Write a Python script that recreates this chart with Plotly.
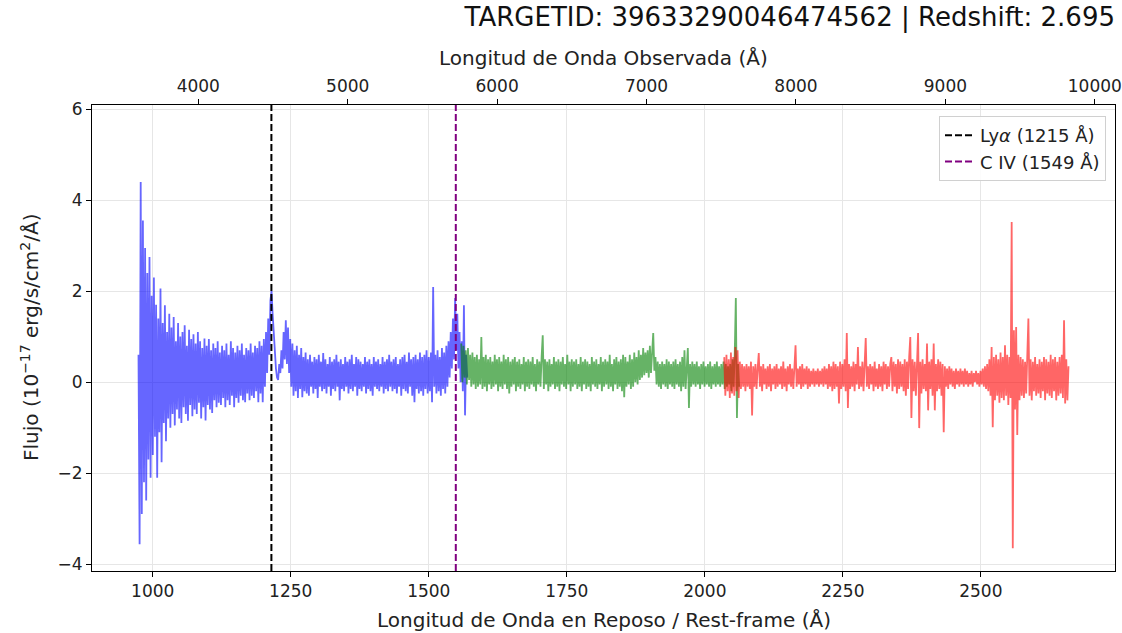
import numpy as np
import plotly.graph_objects as go

# ---------------- data ----------------
redshift = 2.695
target_id = "39633290046474562"

# observed wavelength coverage of each spectrograph arm (Å)
arm_b_range = [3600.0, 5800.0]
arm_r_range = [5760.0, 7620.0]
arm_z_range = [7520.0, 9824.0]

flux_b = [
    0.60, -3.56, 4.40, -2.90, 3.55, -2.20, 2.95, -2.60, 2.40, -1.70,
    2.75, -2.10, 1.90, -1.60, 2.30, -1.20, 1.70, -2.10, 1.40, -1.10,
    2.06, -1.76, 1.30, -0.90, 1.69, -1.30, 1.10, -0.80, 1.50, -1.00,
    1.20, -0.70, 1.43, -0.95, 0.90, -0.60, 1.30, -0.80, 1.00, -0.90,
    1.10, -0.55, 1.25, -0.70, 0.80, -0.85, 1.15, -0.50, 0.95, -0.75,
    1.05, -0.60, 0.85, -0.70, 1.10, -0.45, 0.90, -0.80, 0.75, -0.55,
    0.96, -0.84, 0.80, -0.50, 0.95, -0.60, 0.70, -0.68, 0.85, -0.40,
    0.75, -0.55, 0.90, -0.45, 0.65, -0.50, 0.80, -0.35, 0.70, -0.55,
    0.85, -0.40, 0.60, -0.50, 0.90, -0.30, 0.75, -0.55, 0.65, -0.35,
    0.80, -0.45, 0.70, -0.30, 0.85, -0.40, 0.60, -0.44, 0.75, -0.25,
    0.70, -0.40, 0.85, -0.30, 0.65, -0.35, 0.80, -0.20, 0.75, -0.44,
    0.90, -0.25, 0.80, -0.44, 0.95, -0.10, 1.10, 0.20, 1.40, 0.60,
    1.80, 2.00, 1.50, 1.10, 0.60, 0.30, 0.10, 0.05, 0.40, 0.20,
    0.70, 0.30, 1.10, 0.50, 1.36, 0.40, 1.20, 0.20, 0.95, -0.10,
    0.85, -0.30, 0.70, -0.20, 0.80, -0.35, 0.60, -0.15, 0.75, -0.33,
    0.55, -0.20, 0.65, -0.25, 0.50, -0.30, 0.60, -0.10, 0.45, -0.25,
    0.55, -0.15, 0.50, -0.35, 0.60, -0.10, 0.45, -0.20, 0.64, -0.15,
    0.50, -0.25, 0.40, -0.10, 0.55, -0.30, 0.45, -0.15, 0.50, -0.20,
    0.60, -0.10, 0.45, -0.40, 0.50, -0.15, 0.40, -0.20, 0.55, -0.10,
    0.45, -0.25, 0.50, -0.15, 0.60, -0.20, 0.40, -0.10, 0.55, -0.30,
    0.50, -0.15, 0.45, -0.20, 0.40, -0.10, 0.55, -0.25, 0.45, -0.15,
    0.50, -0.20, 0.40, -0.30, 0.55, -0.10, 0.45, -0.15, 0.50, -0.20,
    0.40, -0.10, 0.55, -0.25, 0.45, -0.15, 0.50, -0.20, 0.60, -0.10,
    0.45, -0.20, 0.50, -0.15, 0.55, -0.25, 0.40, -0.10, 0.50, -0.30,
    0.55, -0.15, 0.60, -0.20, 0.45, -0.25, 0.65, -0.10, 0.50, -0.30,
    0.55, -0.44, 0.60, -0.15, 0.50, -0.25, 0.65, -0.20, 0.55, -0.30,
    0.60, -0.15, 0.70, -0.25, 0.55, -0.20, 0.65, -0.44, 2.09, -0.10,
    0.60, -0.25, 0.70, -0.20, 0.55, -0.30, 0.75, -0.15, 0.65, -0.25,
    0.80, -0.10, 0.90, 0.10, 1.10, 0.30, 1.40, 0.50, 1.85, 0.70,
    1.50, 0.30, 1.10, 0.00, 0.90, -0.20, 1.69, -0.73, 0.60, 0.10,
]

flux_r = [
    0.85, 0.00, 0.80, 0.10, 0.70, -0.05, 0.75, 0.05, 0.60, -0.10,
    0.65, -0.05, 0.55, -0.15, 0.60, -0.10, 0.50, -0.05, 0.99, -0.15,
    0.55, -0.10, 0.60, -0.20, 0.50, -0.05, 0.55, -0.15, 0.45, -0.10,
    0.60, -0.05, 0.50, -0.20, 0.55, -0.10, 0.45, -0.15, 0.60, -0.05,
    0.50, -0.15, 0.55, -0.25, 0.45, -0.10, 0.50, -0.05, 0.55, -0.20,
    0.45, -0.10, 0.50, -0.15, 0.40, -0.05, 0.55, -0.20, 0.45, -0.10,
    0.50, -0.15, 0.45, -0.05, 0.55, -0.10, 0.40, -0.20, 0.50, -0.05,
    0.45, -0.10, 0.55, 1.03, -0.15, 0.50, -0.05, 0.45, -0.20, 0.50,
    -0.10, 0.40, -0.05, 0.55, -0.15, 0.45, -0.10, 0.50, -0.20, 0.45,
    -0.05, 0.55, -0.10, 0.40, -0.15, 0.60, -0.05, 0.45, -0.20, 0.50,
    -0.10, 0.45, -0.05, 0.50, -0.15, 0.40, -0.10, 0.55, -0.20, 0.45,
    -0.05, 0.50, -0.15, 0.45, -0.10, 0.40, -0.20, 0.55, -0.05, 0.45,
    -0.10, 0.50, -0.15, 0.40, -0.05, 0.55, -0.20, 0.45, -0.10, 0.50,
    -0.05, 0.45, -0.15, 0.60, -0.10, 0.40, -0.20, 0.50, -0.05, 0.55,
    -0.15, 0.45, -0.10, 0.50, -0.20, 0.60, -0.33, 0.55, -0.10, 0.45,
    -0.05, 0.60, -0.15, 0.50, -0.10, 0.65, 0.00, 0.55, -0.05, 0.70,
    0.05, 0.60, 0.10, 0.75, 0.15, 0.65, 0.20, 0.70, 0.10, 0.80,
    0.20, 0.70, 1.08, 0.25, 0.55, -0.05, 0.45, -0.10, 0.40, -0.15,
    0.45, -0.05, 0.40, -0.10, 0.50, -0.15, 0.45, -0.05, 0.40, -0.10,
    0.45, -0.15, 0.50, -0.05, 0.40, -0.10, 0.45, -0.20, 0.55, -0.10,
    0.70, -0.15, 0.45, 0.75, -0.57, 0.40, -0.10, 0.45, -0.05, 0.40,
    -0.10, 0.45, -0.05, 0.35, -0.15, 0.40, -0.05, 0.45, -0.10, 0.35,
    -0.05, 0.40, -0.10, 0.45, -0.15, 0.35, -0.05, 0.40, -0.10, 0.45,
    -0.05, 0.35, -0.10, 0.40, -0.05, 0.45, -0.15, 0.40, -0.10, 0.35,
    -0.05, 0.40, -0.20, 0.50, -0.10, 0.60, 1.85, -0.79, 0.40, -0.10,
]

flux_z = [
    0.55, -0.30, 0.60, -0.20, 0.50, -0.35, 0.65, -0.25, 0.55, -0.30,
    0.77, -0.20, 0.70, -0.35, 0.45, -0.15, 0.40, -0.10, 0.35, -0.20,
    0.40, -0.10, 0.35, -0.15, 0.45, -0.73, 0.35, -0.10, 0.40, -0.15,
    0.30, 0.64, -0.10, 0.35, -0.20, 0.40, -0.05, 0.30, -0.15, 0.35,
    -0.10, 0.40, -0.20, 0.30, -0.05, 0.35, -0.15, 0.40, -0.10, 0.30,
    -0.05, 0.35, -0.15, 0.45, -0.10, 0.30, -0.20, 0.35, -0.05, 0.40,
    -0.10, 0.30, -0.15, 0.35, 0.81, -0.10, 0.30, -0.05, 0.35, -0.15,
    0.40, -0.10, 0.30, -0.05, 0.35, -0.15, 0.30, -0.10, 0.25, -0.05,
    0.30, -0.10, 0.25, -0.05, 0.30, -0.10, 0.25, -0.05, 0.30, -0.10,
    0.35, -0.05, 0.30, -0.15, 0.40, -0.10, 0.35, -0.20, 0.45, -0.15,
    0.40, -0.10, 0.35, -0.47, 0.45, -0.15, 0.40, -0.10, 0.50, -0.20,
    1.08, -0.57, 0.40, -0.15, 0.35, -0.10, 0.45, -0.20, 0.40, -0.05,
    0.77, -0.15, 0.35, -0.10, 0.45, -0.20, 0.40, 0.97, -0.10, 0.35,
    -0.15, 0.40, -0.05, 0.35, -0.20, 0.45, -0.10, 0.30, -0.15, 0.40,
    -0.10, 0.35, -0.20, 0.45, -0.05, 0.40, -0.15, 0.35, -0.10, 0.40,
    0.55, -0.20, 0.45, -0.10, 0.40, -0.25, 0.50, -0.15, 0.45, -0.10,
    0.40, -0.20, 0.50, -0.30, 0.45, -0.15, 0.55, 0.99, -0.79, 0.50,
    -0.20, 0.45, -0.30, 0.55, 1.08, -1.01, 0.45, -0.25, 0.50, -0.15,
    0.40, -0.20, 0.85, -0.62, 0.45, -0.15, 0.50, -0.30, 0.85, -0.62,
    0.40, -0.20, 0.50, -0.15, 0.45, -0.30, 0.40, -1.10, 0.35, -0.10,
    0.30, -0.15, 0.35, -0.05, 0.30, -0.10, 0.25, -0.15, 0.30, -0.05,
    0.25, -0.10, 0.30, -0.05, 0.25, -0.10, 0.30, -0.05, 0.25, -0.10,
    0.20, -0.05, 0.25, -0.10, 0.20, 0.00, 0.25, -0.05, 0.20, -0.10,
    0.25, -0.05, 0.30, -0.10, 0.35, -0.15, 0.40, -0.20, 0.50, -0.30,
    0.77, -0.99, 0.55, -0.40, 0.60, -0.30, 0.50, -0.45, 0.65, -0.35,
    0.55, -0.40, 0.81, -0.30, 0.60, -0.50, 0.55, -0.35, 3.52, -3.65,
    1.14, -0.60, 1.21, -1.16, 0.60, -0.40, 0.55, -0.30, 0.50, -0.35,
    0.45, -0.25, 0.55, 1.40, -0.30, 0.50, -0.40, 0.45, -0.20, 0.55,
    -0.30, 0.40, -0.25, 0.50, -0.35, 0.45, -0.20, 0.55, -0.40, 0.50,
    -0.25, 0.45, -0.30, 0.60, -0.35, 0.50, -0.20, 0.55, -0.40, 0.45,
    -0.30, 0.55, -0.25, 0.60, -0.35, 1.36, -0.47, 0.50, -0.40, 0.35,
]

arm_colors = ["rgba(0,0,255,0.6)", "rgba(0,128,0,0.6)", "rgba(255,0,0,0.6)"]

line_labels = ["Ly<i>α</i> (1215 Å)", "C IV (1549 Å)"]
line_waves = [1215, 1549]
line_colors = ["black", "purple"]

rest_ticks = [1000, 1250, 1500, 1750, 2000, 2250, 2500]
obs_ticks = [4000, 5000, 6000, 7000, 8000, 9000, 10000]
flux_ticks = [-4, -2, 0, 2, 4, 6]
flux_range = [-4.15, 6.09]

title_text = f"TARGETID: {target_id} | Redshift: {redshift}"
xlabel_bottom = "Longitud de Onda en Reposo / Rest-frame (Å)"
xlabel_top = "Longitud de Onda Observada (Å)"
ylabel = "Flujo (10<sup>−17</sup> erg/s/cm<sup>2</sup>/Å)"

# ---------------- figure ----------------
FONT = "DejaVu Sans, Verdana, sans-serif"
W, H = 1122, 633
ML, MR, MT, MB = 92, 7, 105, 62

fig = go.Figure()

arms = [(arm_b_range, flux_b), (arm_r_range, flux_r), (arm_z_range, flux_z)]
all_rest = []
for (rng, flux), col in zip(arms, arm_colors):
    obs = np.linspace(rng[0], rng[1], len(flux))
    rest = obs / (1 + redshift)
    all_rest.append(rest)
    fig.add_trace(go.Scatter(x=rest, y=flux, mode="lines",
                             line=dict(color=col, width=1.8),
                             showlegend=False, hoverinfo="skip"))

all_rest = np.concatenate(all_rest)
span = all_rest.max() - all_rest.min()
xr = [all_rest.min() - 0.05 * span, all_rest.max() + 0.05 * span]

# invisible trace to activate the top (observed-frame) axis
fig.add_trace(go.Scatter(x=all_rest * (1 + redshift), y=np.zeros_like(all_rest),
                         xaxis="x2", mode="lines", line=dict(width=0),
                         opacity=0, showlegend=False, hoverinfo="skip"))

for w, lab, col in zip(line_waves, line_labels, line_colors):
    fig.add_vline(x=w, line=dict(color=col, width=2, dash="7px,3px"))
    fig.add_trace(go.Scatter(x=[None], y=[None], mode="lines", name=lab,
                             line=dict(color=col, width=2, dash="7px,3px")))

axis_common = dict(showline=True, linecolor="black", linewidth=1,
                   ticks="outside", ticklen=5, tickwidth=1, tickcolor="black",
                   tickfont=dict(family=FONT, size=17, color="#222"),
                   zeroline=False, automargin=False)

fig.update_layout(
    width=W, height=H,
    margin=dict(l=ML, r=MR, t=MT, b=MB),
    paper_bgcolor="white", plot_bgcolor="white",
    font=dict(family=FONT, color="#222"),
    title=dict(text=title_text, x=1, xref="paper", xanchor="right",
               y=1 - 17 / H, yref="container", yanchor="middle",
               font=dict(family=FONT, size=26, color="#111"),
               automargin=False),
    xaxis=dict(range=xr, tickvals=rest_ticks, mirror=True,
               showgrid=True, gridcolor="#e6e6e6", gridwidth=1, **axis_common),
    xaxis2=dict(range=[xr[0] * (1 + redshift), xr[1] * (1 + redshift)],
                overlaying="x", side="top", anchor="y",
                tickvals=obs_ticks, ticktext=[str(t) for t in obs_ticks],
                showgrid=False, **axis_common),
    yaxis=dict(range=flux_range, tickvals=flux_ticks, mirror=True,
               showgrid=True, gridcolor="#e6e6e6", gridwidth=1, **axis_common),
    legend=dict(x=(1106 - ML) / (W - ML - MR), xanchor="right",
                y=1 - (116 - MT) / (H - MT - MB), yanchor="top",
                bgcolor="rgba(255,255,255,0.85)", bordercolor="#d0d0d0",
                borderwidth=1, font=dict(family=FONT, size=18, color="#222"),
                tracegroupgap=4),
    annotations=[
        dict(text=xlabel_bottom, x=0.5, y=0, xref="paper", yref="paper",
             xanchor="center", yanchor="top", yshift=-35, showarrow=False,
             font=dict(family=FONT, size=20, color="#222")),
        dict(text=xlabel_top, x=0.5, y=1, xref="paper", yref="paper",
             xanchor="center", yanchor="bottom", yshift=33, showarrow=False,
             font=dict(family=FONT, size=20, color="#222")),
        dict(text=ylabel, x=0, y=0.5, xref="paper", yref="paper",
             xanchor="center", yanchor="middle", xshift=-62, textangle=-90,
             showarrow=False, font=dict(family=FONT, size=20, color="#222")),
    ],
)

fig.write_html("out.html")
